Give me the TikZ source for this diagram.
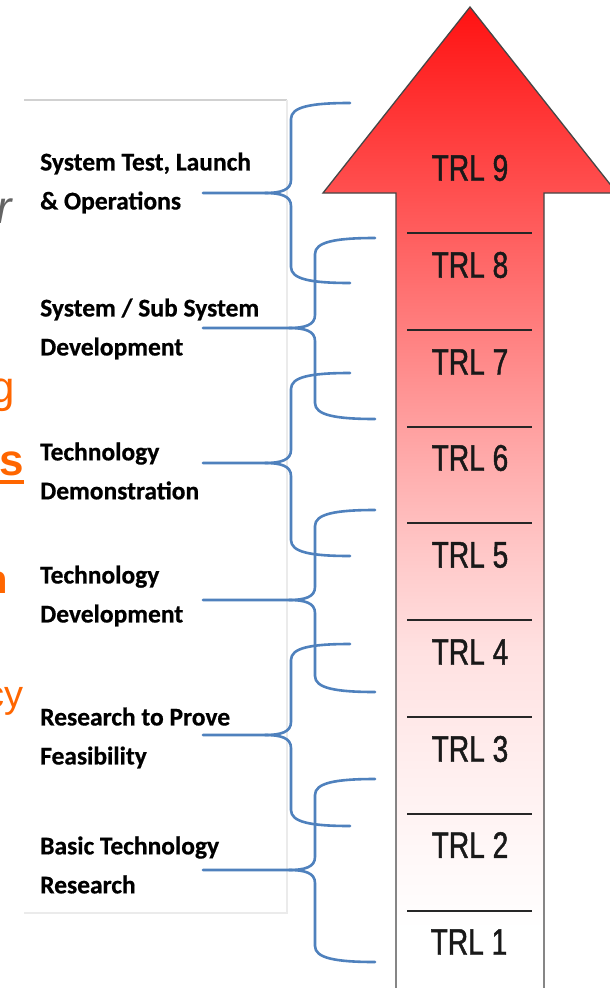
\documentclass[tikz,border=0pt]{standalone}
\usepackage{fontspec}
\setmainfont{Liberation Sans}
\newfontfamily\labelfont[FakeBold=0.6]{Carlito}
\newfontfamily\trlfont[FakeStretch=0.76, FakeBold=1.2]{Liberation Sans}
\definecolor{bracecol}{RGB}{79,129,189}
\definecolor{orng}{RGB}{255,102,0}
\definecolor{fraggray}{RGB}{100,100,100}
\definecolor{arrowgray}{RGB}{70,70,70}
\definecolor{sA}{RGB}{255,18,18}
\definecolor{sB}{RGB}{255,80,80}
\definecolor{sC}{RGB}{255,138,138}
\definecolor{sD}{RGB}{255,170,170}
\definecolor{sE}{RGB}{255,200,200}
\definecolor{sF}{RGB}{255,225,225}
\definecolor{sG}{RGB}{255,242,242}
\pgfdeclareverticalshading{trlshade}{100bp}{color(0bp)=(white); color(28.3bp)=(white); color(34.9bp)=(sG); color(42.4bp)=(sF); color(47.3bp)=(sE); color(52.2bp)=(sD); color(57bp)=(sC); color(65.6bp)=(sB); color(75bp)=(sA); color(100bp)=(sA)}
\tikzset{
  brace/.style={draw=bracecol, line width=2.6pt, line cap=round, line join=round},
  phase/.style={anchor=west, inner sep=0pt, align=left, text=black, font=\labelfont\bfseries\fontsize{25.5}{39}\selectfont},
  trl/.style={inner sep=0pt, text=black!90, font=\trlfont\fontsize{37}{40}\selectfont},
  divider/.style={draw=black!85, line width=2.4pt},
  frag/.style={anchor=base east, inner sep=0pt},
}
% #1 vertical x, #2 end x, #3 top y, #4 middle y, #5 bottom y, #6 name
\newcommand\trlbrace[6]{%
  \coordinate (#6tail) at (203,#4);
  \coordinate (#6top) at (#2,#3);
  \coordinate (#6bot) at (#2,#5);
  \coordinate (#6tip) at (#1-26,#4);
  \draw[brace] (#6tail) -- (#6tip) .. controls +(16,0) and +(0,10) .. (#1,#4-13) -- (#1,#3+16) .. controls +(0,-12) and +(-40,0) .. (#6top);
  \draw[brace] (#6tip) .. controls +(16,0) and +(0,-10) .. (#1,#4+13) -- (#1,#5-16) .. controls +(0,12) and +(-40,0) .. (#6bot);
}
\begin{document}
\begin{tikzpicture}[x=1pt,y=-1pt]
\useasboundingbox (0,0) rectangle (610,988);
\clip (0,0) rectangle (610,988);
\fill[white] (0,0) rectangle (610,988);
% left panel
\draw[draw=black!18, line width=1.2pt] (24,100) -- (287,100);
\draw[draw=black!8, line width=1.2pt] (287,100) -- (287,913) -- (24,913);
% cropped fragments at the left edge
\node[frag, text=fraggray, font=\itshape\fontsize{46}{46}\selectfont] (fr) at (12,223) {r};
\node[frag, text=orng, font=\fontsize{44}{44}\selectfont] (fg) at (15,402) {g};
\node[frag, text=orng, font=\bfseries\fontsize{44}{44}\selectfont] (fus) at (24,475) {us};
\draw[draw=orng, line width=3.5pt] ([yshift=-7pt]fus.base west) -- ([yshift=-7pt]fus.base east);
\node[frag, text=orng, font=\bfseries\fontsize{40}{40}\selectfont] (fn) at (8,593) {n};
\node[frag, text=orng, font=\fontsize{38}{38}\selectfont] (fcy) at (24,707) {cy};
% arrow
\shadedraw[shading=trlshade, draw=arrowgray, line width=1.3pt, line join=miter]
  (470,7) -- (617,193) -- (544,193) -- (544,995) -- (396,995) -- (396,193) -- (323,193) -- cycle;
\foreach \y in {233,330,427,523,620,717,814,911} {
  \draw[divider] (407,\y) -- (532,\y);
}
\node[trl] (trl9) at (470,168) {TRL 9};
\node[trl] (trl8) at (470,265) {TRL 8};
\node[trl] (trl7) at (470,362) {TRL 7};
\node[trl] (trl6) at (470,458) {TRL 6};
\node[trl] (trl5) at (470,555) {TRL 5};
\node[trl] (trl4) at (470,652) {TRL 4};
\node[trl] (trl3) at (470,749) {TRL 3};
\node[trl] (trl2) at (470,845) {TRL 2};
\node[trl] (trl1) at (469,942) {TRL 1};
% phase labels
\node[phase] (p1) at (40,183) {System Test, Launch\\\& Operations};
\node[phase] (p2) at (40,329) {System / Sub System\\Development};
\node[phase] (p3) at (40,471) {Technology\\Demonstration};
\node[phase] (p4) at (40,596) {Technology\\Development};
\node[phase] (p5) at (40,738) {Research to Prove\\Feasibility};
\node[phase] (p6) at (40,865) {Basic Technology\\Research};
% braces
\trlbrace{291}{350}{103}{193}{283}{b1}
\trlbrace{315}{375}{238}{328}{419}{b2}
\trlbrace{291}{350}{373}{463}{556}{b3}
\trlbrace{315}{375}{510}{600}{692}{b4}
\trlbrace{291}{350}{644}{735}{826}{b5}
\trlbrace{315}{375}{779}{870}{962}{b6}
\end{tikzpicture}
\end{document}
